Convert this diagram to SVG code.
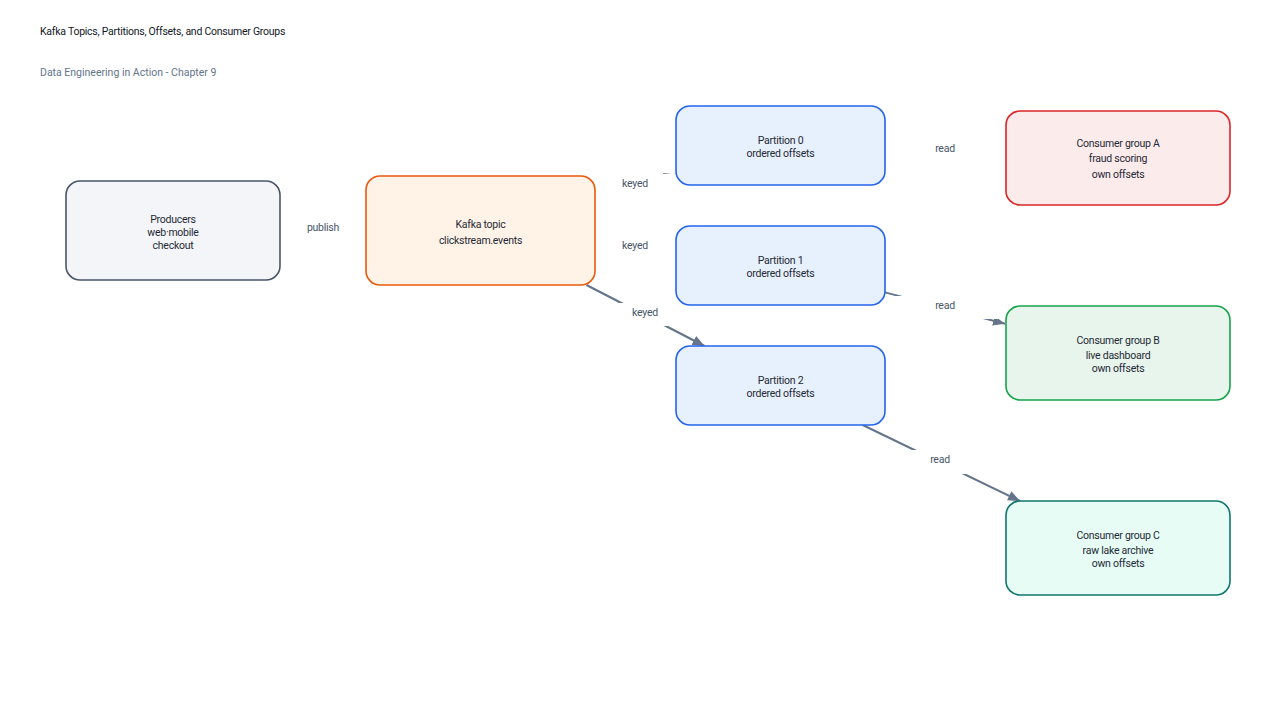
<svg xmlns="http://www.w3.org/2000/svg" width="1280" height="720" viewBox="0 0 1280 720">
<style>
text{font-family:Roboto,"Liberation Sans",sans-serif;font-size:10.5px;letter-spacing:-0.25px}
.title{fill:#111827}
.sub{fill:#64748b;letter-spacing:0}
.nt{fill:#1f2937;text-anchor:middle}
.lbl{fill:#475569;text-anchor:middle}
.lbg{fill:#ffffff}
.edge{stroke:#64748b;stroke-width:2;fill:none}
.node rect{stroke-width:1.6}
</style>
<defs>
<marker id="arr" markerUnits="userSpaceOnUse" viewBox="0 0 12 10" markerWidth="12" markerHeight="10" refX="12" refY="5" orient="auto">
<path d="M0,0 L12,5 L0,10 z" fill="#64748b"/>
</marker>
</defs>
<rect width="1280" height="720" fill="#ffffff"/>
<text class="title" x="40" y="35">Kafka Topics, Partitions, Offsets, and Consumer Groups</text>
<text class="sub" x="40" y="76">Data Engineering in Action - Chapter 9</text>

<g id="connectors">
<line class="edge" x1="280" y1="230" x2="366" y2="230" marker-end="url(#arr)"/>
<line class="edge" x1="595" y1="197.4" x2="676" y2="174.5" marker-end="url(#arr)"/>
<line class="edge" x1="595" y1="243.4" x2="676" y2="252.9" marker-end="url(#arr)"/>
<line class="edge" x1="586.5" y1="285" x2="704.5" y2="346" marker-end="url(#arr)"/>
<line class="edge" x1="885" y1="149" x2="1005" y2="153.6" marker-end="url(#arr)"/>
<line class="edge" x1="885" y1="292.4" x2="1005" y2="323.8" marker-end="url(#arr)"/>
<line class="edge" x1="862.7" y1="425" x2="1020" y2="501" marker-end="url(#arr)"/>
<g id="edge-labels">
<rect class="lbg" x="263" y="218" width="120" height="23"/>
<text class="lbl" x="323" y="231">publish</text>
<rect class="lbg" x="575" y="174" width="120" height="26"/>
<text class="lbl" x="635" y="187">keyed</text>
<rect class="lbg" x="575" y="236" width="120" height="23"/>
<text class="lbl" x="635" y="249">keyed</text>
<rect class="lbg" x="585" y="303" width="120" height="23"/>
<text class="lbl" x="645" y="316">keyed</text>
<rect class="lbg" x="885" y="139" width="120" height="23"/>
<text class="lbl" x="945" y="152">read</text>
<rect class="lbg" x="885" y="296" width="120" height="23"/>
<text class="lbl" x="945" y="309">read</text>
<rect class="lbg" x="880" y="450" width="120" height="24"/>
<text class="lbl" x="940" y="463">read</text>
</g>
</g>

<g id="producers" class="node">
<rect x="66" y="181" width="214" height="99" rx="14" fill="#f3f5f8" stroke="#475569"/>
<text class="nt" x="173" y="223">Producers</text>
<text class="nt" x="173" y="236">web·mobile</text>
<text class="nt" x="173" y="249">checkout</text>
</g>
<g id="topic" class="node">
<rect x="366" y="176" width="229" height="109" rx="14" fill="#fef3e6" stroke="#ea580c"/>
<text class="nt" x="480.5" y="228">Kafka topic</text>
<text class="nt" x="480.5" y="244">clickstream.events</text>
</g>
<g id="partition0" class="node">
<rect x="676" y="106" width="209" height="79" rx="14" fill="#e7f0fd" stroke="#2563eb"/>
<text class="nt" x="780.5" y="144">Partition 0</text>
<text class="nt" x="780.5" y="157">ordered offsets</text>
</g>
<g id="partition1" class="node">
<rect x="676" y="226" width="209" height="79" rx="14" fill="#e7f0fd" stroke="#2563eb"/>
<text class="nt" x="780.5" y="264">Partition 1</text>
<text class="nt" x="780.5" y="277">ordered offsets</text>
</g>
<g id="partition2" class="node">
<rect x="676" y="346" width="209" height="79" rx="14" fill="#e7f0fd" stroke="#2563eb"/>
<text class="nt" x="780.5" y="384">Partition 2</text>
<text class="nt" x="780.5" y="397">ordered offsets</text>
</g>
<g id="groupA" class="node">
<rect x="1006" y="111" width="224" height="94" rx="14" fill="#fcebeb" stroke="#dc2626"/>
<text class="nt" x="1118" y="147">Consumer group A</text>
<text class="nt" x="1118" y="162">fraud scoring</text>
<text class="nt" x="1118" y="178">own offsets</text>
</g>
<g id="groupB" class="node">
<rect x="1006" y="306" width="224" height="94" rx="14" fill="#e8f5ec" stroke="#16a34a"/>
<text class="nt" x="1118" y="344">Consumer group B</text>
<text class="nt" x="1118" y="359">live dashboard</text>
<text class="nt" x="1118" y="372">own offsets</text>
</g>
<g id="groupC" class="node">
<rect x="1006" y="501" width="224" height="94" rx="14" fill="#e6fcf5" stroke="#0f766e"/>
<text class="nt" x="1118" y="539">Consumer group C</text>
<text class="nt" x="1118" y="554">raw lake archive</text>
<text class="nt" x="1118" y="567">own offsets</text>
</g>
</svg>
